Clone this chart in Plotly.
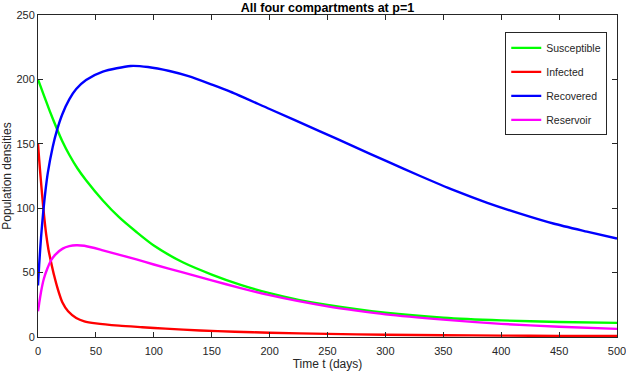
import plotly.graph_objects as go

# Time points (days) and values
t_s = [0, 5, 10, 16.4, 21, 27, 34, 41.5, 56, 70, 85, 100, 125, 150, 175, 200, 225, 250, 300, 350, 400, 450, 500]
susceptible = [200, 187.8, 175.8, 161.5, 152, 141.5, 131, 121.7, 106, 93, 81.5, 71, 58, 48.5, 40.5, 34, 28.8, 24.8, 18.8, 15, 12.9, 11.6, 11]

t_i = [0, 1, 2.5, 4.6, 7, 9, 11.2, 14, 17, 21, 26, 33, 40, 50, 70, 90, 110, 140, 170, 200, 250, 300, 350, 400, 450, 500]
infected = [150, 138, 121.5, 100, 80, 68, 58.5, 47.5, 37.5, 27, 20, 14.8, 12.2, 10.6, 8.8, 7.6, 6.5, 5.1, 4.1, 3.3, 2.4, 1.8, 1.4, 1.1, 0.9, 0.8]

t_r = [0, 1, 2.6, 4.6, 6.5, 8.4, 12.7, 16.4, 21, 27, 33, 41.5, 56, 80, 95, 113.5, 130, 150, 166, 200, 244, 272.5, 301, 330, 359, 388, 417, 445, 474, 500]
recovered = [40, 56, 77, 98, 114, 127, 147.5, 160.6, 173, 184.5, 192.5, 199.5, 206, 210.4, 209.6, 206.5, 202.5, 196, 190.5, 177, 159.5, 148, 136.5, 125, 114, 104.2, 95.6, 88.1, 81.8, 76.4]

t_v = [0, 1, 2.6, 5, 8, 11.2, 15, 21.3, 27, 33, 40, 56, 85, 100, 125, 150, 175, 200, 225, 250, 275, 300, 350, 400, 450, 500]
reservoir = [20, 26, 35, 45, 53, 59.4, 64, 68.6, 70.5, 71.2, 70.8, 67.3, 60.2, 56.3, 50.2, 44, 38, 32.5, 27.8, 23.8, 20.5, 17.6, 13.5, 10.2, 8, 6.3]

names = ["Susceptible", "Infected", "Recovered", "Reservoir"]
colors = ["#00ff00", "#ff0000", "#0000ff", "#ff00ff"]
series = [(t_s, susceptible), (t_i, infected), (t_r, recovered), (t_v, reservoir)]

FONT = "Liberation Sans, Arial, Helvetica, sans-serif"
AX = "#262626"

fig = go.Figure()
for (tx, ty), name, col in zip(series, names, colors):
    fig.add_trace(go.Scatter(
        x=tx, y=ty, mode="lines", name=name, legendgroup=name,
        line=dict(color=col, width=2.4, shape="spline", smoothing=0.7),
    ))

axis_common = dict(
    showgrid=False, zeroline=False, showline=True, linecolor=AX, linewidth=1,
    mirror="ticks", ticks="inside", ticklen=5, tickcolor=AX, tickwidth=1,
    tickfont=dict(family=FONT, size=11, color=AX), automargin=False,
    ticklabeloverflow="allow",
)

fig.update_layout(
    width=626, height=373,
    paper_bgcolor="white", plot_bgcolor="white",
    margin=dict(l=38, r=9, t=15, b=36),
    title=dict(text="<b>All four compartments at p=1</b>", x=0.5, xref="paper", xanchor="center",
               y=0.99, yanchor="top", font=dict(family=FONT, size=12.5, color="#000000")),
    xaxis=dict(range=[0, 500], dtick=50, tick0=0, ticklabelstandoff=4,
               title=dict(text="Time t (days)", standoff=3, font=dict(family=FONT, size=12, color=AX)),
               **axis_common),
    yaxis=dict(range=[0, 250], dtick=50, tick0=0,
               title=dict(text="Population densities", standoff=4, font=dict(family=FONT, size=12, color=AX)),
               **axis_common),
    legend=dict(x=0.807, y=0.946, xanchor="left", yanchor="top",
                bordercolor=AX, borderwidth=1, bgcolor="white",
                font=dict(family=FONT, size=10.5, color=AX),
                traceorder="grouped", tracegroupgap=5, itemwidth=30),
    showlegend=True,
)

fig.write_html("out.html", config={"displayModeBar": False},
               post_script="document.body.style.margin='0';document.body.style.padding='0';")
